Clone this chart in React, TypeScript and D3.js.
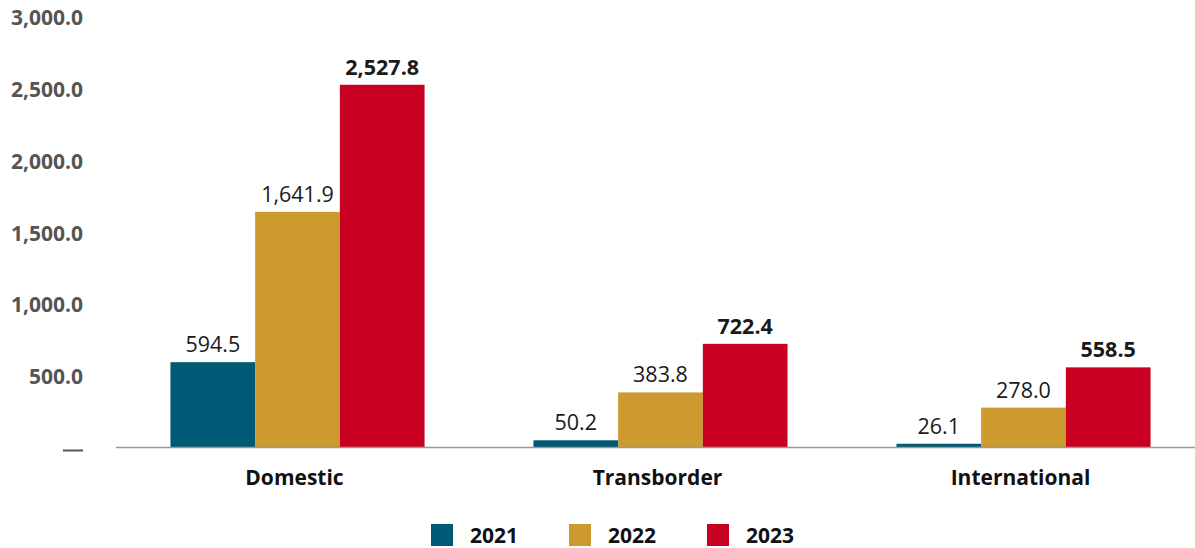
import React from "react";
import * as d3 from "d3";

const categories = ["Domestic", "Transborder", "International"];
const years = ["2021", "2022", "2023"];
const values2021 = [594.5, 50.2, 26.1];
const values2022 = [1641.9, 383.8, 278.0];
const values2023 = [2527.8, 722.4, 558.5];
const yTicks = [0, 500, 1000, 1500, 2000, 2500, 3000];
const colors = ["#005A75", "#CC9A2E", "#C80022"];

const W = 1195;
const H = 548;
const FONT = "'Open Sans', 'Noto Sans', sans-serif";

export default function App() {
  const series = [values2021, values2022, values2023];
  const x = d3.scaleBand<string>().domain(categories).range([116, 1205]).paddingInner(0.3).paddingOuter(0.15);
  const xi = d3.scaleBand<string>().domain(years).range([0, x.bandwidth()]);
  const y = d3.scaleLinear().domain([0, 3000]).range([447.5, 17]);
  const fmt = d3.format(",.1f");
  const legendX = d3.scalePoint<string>().domain(years).range([431, 707]);

  return (
    <svg width={W} height={H} style={{ position: "absolute", left: 0, top: 0, background: "#fff" }} fontFamily={FONT}>
      {yTicks.map((t) =>
        t === 0 ? (
          <line key={t} x1={63} x2={83} y1={y(t) + 3} y2={y(t) + 3} stroke="#555" strokeWidth={2} />
        ) : (
          <text key={t} x={83} y={y(t) + 1} dy="0.35em" textAnchor="end" fontSize={21} fontWeight={700} fill="#555">
            {fmt(t)}
          </text>
        )
      )}
      {categories.map((c, ci) => (
        <g key={c}>
          {years.map((yr, si) => {
            const v = series[si][ci];
            const bx = (x(c) as number) + (xi(yr) as number);
            return (
              <g key={yr}>
                <rect x={bx} y={y(v)} width={xi.bandwidth()} height={y(0) - y(v)} fill={colors[si]} />
                <text
                  x={bx + xi.bandwidth() / 2}
                  y={y(v) - 10}
                  textAnchor="middle"
                  fontSize={21.5}
                  fontWeight={si === 2 ? 700 : 400}
                  fill="#1a1a1a"
                >
                  {fmt(v)}
                </text>
              </g>
            );
          })}
          <text x={(x(c) as number) + x.bandwidth() / 2 - 3} y={485} textAnchor="middle" fontSize={21} fontWeight={700} fill="#111">
            {c}
          </text>
        </g>
      ))}
      <line x1={116} x2={W} y1={y(0)} y2={y(0)} stroke="#999" strokeWidth={1.5} />
      {years.map((yr, i) => (
        <g key={yr}>
          <rect x={legendX(yr)} y={524} width={22} height={22} fill={colors[i]} />
          <text x={(legendX(yr) as number) + 39} y={536} dy="0.35em" fontSize={21} fontWeight={700} fill="#111">
            {yr}
          </text>
        </g>
      ))}
    </svg>
  );
}
